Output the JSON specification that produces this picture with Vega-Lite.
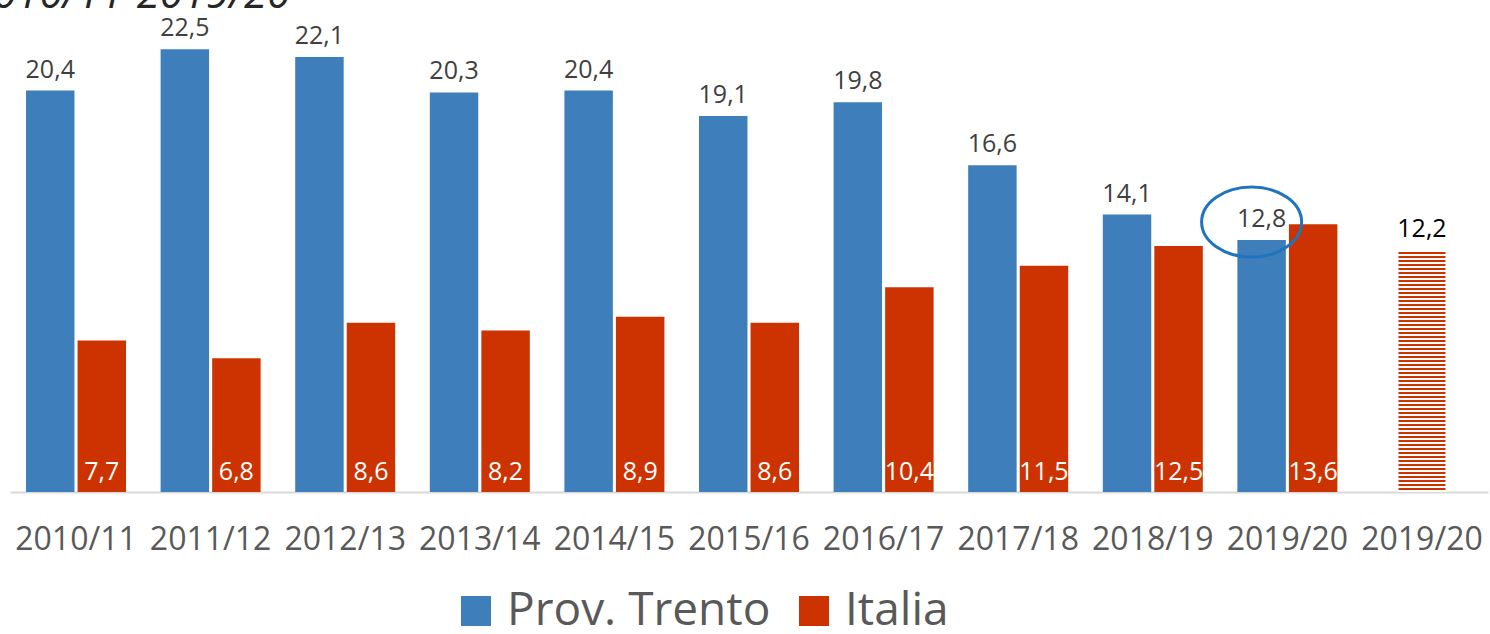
{
  "$schema": "https://vega.github.io/schema/vega-lite/v6.json",
  "autosize": {"type": "none"},
  "width": 1478,
  "height": 492,
  "padding": {"left": 10, "top": 0, "right": 2, "bottom": 142},
  "background": "white",
  "data": {"values": [
    {"cat": "2010/11", "series": "Prov. Trento", "value": 20.4},
    {"cat": "2010/11", "series": "Italia", "value": 7.7},
    {"cat": "2011/12", "series": "Prov. Trento", "value": 22.5},
    {"cat": "2011/12", "series": "Italia", "value": 6.8},
    {"cat": "2012/13", "series": "Prov. Trento", "value": 22.1},
    {"cat": "2012/13", "series": "Italia", "value": 8.6},
    {"cat": "2013/14", "series": "Prov. Trento", "value": 20.3},
    {"cat": "2013/14", "series": "Italia", "value": 8.2},
    {"cat": "2014/15", "series": "Prov. Trento", "value": 20.4},
    {"cat": "2014/15", "series": "Italia", "value": 8.9},
    {"cat": "2015/16", "series": "Prov. Trento", "value": 19.1},
    {"cat": "2015/16", "series": "Italia", "value": 8.6},
    {"cat": "2016/17", "series": "Prov. Trento", "value": 19.8},
    {"cat": "2016/17", "series": "Italia", "value": 10.4},
    {"cat": "2017/18", "series": "Prov. Trento", "value": 16.6},
    {"cat": "2017/18", "series": "Italia", "value": 11.5},
    {"cat": "2018/19", "series": "Prov. Trento", "value": 14.1},
    {"cat": "2018/19", "series": "Italia", "value": 12.5},
    {"cat": "2019/20", "series": "Prov. Trento", "value": 12.8},
    {"cat": "2019/20", "series": "Italia", "value": 13.6},
    {"cat": "2019/20 (s)", "series": "stima", "value": 12.2}
  ]},
  "encoding": {
    "x": {"field": "cat", "type": "nominal", "sort": null,
      "scale": {"domain": ["2010/11","2011/12","2012/13","2013/14","2014/15","2015/16","2016/17","2017/18","2018/19","2019/20","2019/20 (s)"], "paddingInner": 0.257, "paddingOuter": 0.119},
      "axis": {"title": null, "labelAngle": 0, "labelFontSize": 32, "labelColor": "#595959", "labelPadding": 32, "ticks": false, "domainColor": "#D9D9D9", "domainWidth": 2, "labelExpr": "substring(datum.label, 0, 7)"}},
    "y": {"field": "value", "type": "quantitative", "scale": {"domain": [0, 25], "nice": false}, "axis": null}
  },
  "layer": [
    {
      "transform": [{"filter": "datum.series !== 'stima'"}],
      "mark": {"type": "bar"},
      "encoding": {
        "xOffset": {"field": "series", "type": "nominal", "scale": {"domain": ["Prov. Trento", "Italia"], "paddingInner": 0.06}},
        "color": {"field": "series", "type": "nominal", "scale": {"domain": ["Prov. Trento", "Italia"], "range": ["#3D7EBB", "#CC3300"]},
          "legend": {"title": null, "orient": "none", "legendX": 443, "legendY": 588, "direction": "horizontal", "symbolType": "square", "symbolSize": 900, "symbolStrokeWidth": 0, "labelFontSize": 46, "labelColor": "#595959", "labelOffset": 8, "labelLimit": 0, "columnPadding": 20, "padding": 0, "labelBaseline": "middle"}}
      }
    },
    {
      "transform": [{"filter": "datum.series === 'Prov. Trento'"}],
      "mark": {"type": "text", "dy": -13, "baseline": "alphabetic", "fontSize": 25, "color": "#404040"},
      "encoding": {
        "xOffset": {"field": "series", "type": "nominal", "scale": {"domain": ["Prov. Trento", "Italia"], "paddingInner": 0.06}},
        "text": {"field": "value", "type": "quantitative", "format": ".1f"}
      }
    },
    {
      "transform": [{"filter": "datum.series === 'Italia'"}],
      "mark": {"type": "text", "dy": -12, "baseline": "alphabetic", "fontSize": 25, "color": "#FFFFFF"},
      "encoding": {
        "xOffset": {"field": "series", "type": "nominal", "scale": {"domain": ["Prov. Trento", "Italia"], "paddingInner": 0.06}},
        "y": {"datum": 0},
        "text": {"field": "value", "type": "quantitative", "format": ".1f"}
      }
    },
    {
      "transform": [{"filter": "datum.series === 'stima'"}],
      "mark": {"type": "bar", "width": {"band": 0.47}, "fill": {"gradient": "linear", "x1": 0, "y1": 0, "x2": 0, "y2": 1, "stops": [
        {"offset":0,"color":"#c30"},{"offset":0.0092,"color":"#c30"},{"offset":0.0092,"color":"#fff"},{"offset":0.0167,"color":"#fff"},
        {"offset":0.0167,"color":"#c30"},{"offset":0.0259,"color":"#c30"},{"offset":0.0259,"color":"#fff"},{"offset":0.0333,"color":"#fff"},
        {"offset":0.0333,"color":"#c30"},{"offset":0.0425,"color":"#c30"},{"offset":0.0425,"color":"#fff"},{"offset":0.05,"color":"#fff"},
        {"offset":0.05,"color":"#c30"},{"offset":0.0592,"color":"#c30"},{"offset":0.0592,"color":"#fff"},{"offset":0.0667,"color":"#fff"},
        {"offset":0.0667,"color":"#c30"},{"offset":0.0759,"color":"#c30"},{"offset":0.0759,"color":"#fff"},{"offset":0.0833,"color":"#fff"},
        {"offset":0.0833,"color":"#c30"},{"offset":0.0925,"color":"#c30"},{"offset":0.0925,"color":"#fff"},{"offset":0.1,"color":"#fff"},
        {"offset":0.1,"color":"#c30"},{"offset":0.1092,"color":"#c30"},{"offset":0.1092,"color":"#fff"},{"offset":0.1167,"color":"#fff"},
        {"offset":0.1167,"color":"#c30"},{"offset":0.1259,"color":"#c30"},{"offset":0.1259,"color":"#fff"},{"offset":0.1333,"color":"#fff"},
        {"offset":0.1333,"color":"#c30"},{"offset":0.1425,"color":"#c30"},{"offset":0.1425,"color":"#fff"},{"offset":0.15,"color":"#fff"},
        {"offset":0.15,"color":"#c30"},{"offset":0.1592,"color":"#c30"},{"offset":0.1592,"color":"#fff"},{"offset":0.1667,"color":"#fff"},
        {"offset":0.1667,"color":"#c30"},{"offset":0.1759,"color":"#c30"},{"offset":0.1759,"color":"#fff"},{"offset":0.1833,"color":"#fff"},
        {"offset":0.1833,"color":"#c30"},{"offset":0.1925,"color":"#c30"},{"offset":0.1925,"color":"#fff"},{"offset":0.2,"color":"#fff"},
        {"offset":0.2,"color":"#c30"},{"offset":0.2092,"color":"#c30"},{"offset":0.2092,"color":"#fff"},{"offset":0.2167,"color":"#fff"},
        {"offset":0.2167,"color":"#c30"},{"offset":0.2259,"color":"#c30"},{"offset":0.2259,"color":"#fff"},{"offset":0.2333,"color":"#fff"},
        {"offset":0.2333,"color":"#c30"},{"offset":0.2425,"color":"#c30"},{"offset":0.2425,"color":"#fff"},{"offset":0.25,"color":"#fff"},
        {"offset":0.25,"color":"#c30"},{"offset":0.2592,"color":"#c30"},{"offset":0.2592,"color":"#fff"},{"offset":0.2667,"color":"#fff"},
        {"offset":0.2667,"color":"#c30"},{"offset":0.2759,"color":"#c30"},{"offset":0.2759,"color":"#fff"},{"offset":0.2833,"color":"#fff"},
        {"offset":0.2833,"color":"#c30"},{"offset":0.2925,"color":"#c30"},{"offset":0.2925,"color":"#fff"},{"offset":0.3,"color":"#fff"},
        {"offset":0.3,"color":"#c30"},{"offset":0.3092,"color":"#c30"},{"offset":0.3092,"color":"#fff"},{"offset":0.3167,"color":"#fff"},
        {"offset":0.3167,"color":"#c30"},{"offset":0.3259,"color":"#c30"},{"offset":0.3259,"color":"#fff"},{"offset":0.3333,"color":"#fff"},
        {"offset":0.3333,"color":"#c30"},{"offset":0.3425,"color":"#c30"},{"offset":0.3425,"color":"#fff"},{"offset":0.35,"color":"#fff"},
        {"offset":0.35,"color":"#c30"},{"offset":0.3592,"color":"#c30"},{"offset":0.3592,"color":"#fff"},{"offset":0.3667,"color":"#fff"},
        {"offset":0.3667,"color":"#c30"},{"offset":0.3759,"color":"#c30"},{"offset":0.3759,"color":"#fff"},{"offset":0.3833,"color":"#fff"},
        {"offset":0.3833,"color":"#c30"},{"offset":0.3925,"color":"#c30"},{"offset":0.3925,"color":"#fff"},{"offset":0.4,"color":"#fff"},
        {"offset":0.4,"color":"#c30"},{"offset":0.4092,"color":"#c30"},{"offset":0.4092,"color":"#fff"},{"offset":0.4167,"color":"#fff"},
        {"offset":0.4167,"color":"#c30"},{"offset":0.4259,"color":"#c30"},{"offset":0.4259,"color":"#fff"},{"offset":0.4333,"color":"#fff"},
        {"offset":0.4333,"color":"#c30"},{"offset":0.4425,"color":"#c30"},{"offset":0.4425,"color":"#fff"},{"offset":0.45,"color":"#fff"},
        {"offset":0.45,"color":"#c30"},{"offset":0.4592,"color":"#c30"},{"offset":0.4592,"color":"#fff"},{"offset":0.4667,"color":"#fff"},
        {"offset":0.4667,"color":"#c30"},{"offset":0.4759,"color":"#c30"},{"offset":0.4759,"color":"#fff"},{"offset":0.4833,"color":"#fff"},
        {"offset":0.4833,"color":"#c30"},{"offset":0.4925,"color":"#c30"},{"offset":0.4925,"color":"#fff"},{"offset":0.5,"color":"#fff"},
        {"offset":0.5,"color":"#c30"},{"offset":0.5092,"color":"#c30"},{"offset":0.5092,"color":"#fff"},{"offset":0.5167,"color":"#fff"},
        {"offset":0.5167,"color":"#c30"},{"offset":0.5259,"color":"#c30"},{"offset":0.5259,"color":"#fff"},{"offset":0.5333,"color":"#fff"},
        {"offset":0.5333,"color":"#c30"},{"offset":0.5425,"color":"#c30"},{"offset":0.5425,"color":"#fff"},{"offset":0.55,"color":"#fff"},
        {"offset":0.55,"color":"#c30"},{"offset":0.5592,"color":"#c30"},{"offset":0.5592,"color":"#fff"},{"offset":0.5667,"color":"#fff"},
        {"offset":0.5667,"color":"#c30"},{"offset":0.5759,"color":"#c30"},{"offset":0.5759,"color":"#fff"},{"offset":0.5833,"color":"#fff"},
        {"offset":0.5833,"color":"#c30"},{"offset":0.5925,"color":"#c30"},{"offset":0.5925,"color":"#fff"},{"offset":0.6,"color":"#fff"},
        {"offset":0.6,"color":"#c30"},{"offset":0.6092,"color":"#c30"},{"offset":0.6092,"color":"#fff"},{"offset":0.6167,"color":"#fff"},
        {"offset":0.6167,"color":"#c30"},{"offset":0.6259,"color":"#c30"},{"offset":0.6259,"color":"#fff"},{"offset":0.6333,"color":"#fff"},
        {"offset":0.6333,"color":"#c30"},{"offset":0.6425,"color":"#c30"},{"offset":0.6425,"color":"#fff"},{"offset":0.65,"color":"#fff"},
        {"offset":0.65,"color":"#c30"},{"offset":0.6592,"color":"#c30"},{"offset":0.6592,"color":"#fff"},{"offset":0.6667,"color":"#fff"},
        {"offset":0.6667,"color":"#c30"},{"offset":0.6759,"color":"#c30"},{"offset":0.6759,"color":"#fff"},{"offset":0.6833,"color":"#fff"},
        {"offset":0.6833,"color":"#c30"},{"offset":0.6925,"color":"#c30"},{"offset":0.6925,"color":"#fff"},{"offset":0.7,"color":"#fff"},
        {"offset":0.7,"color":"#c30"},{"offset":0.7092,"color":"#c30"},{"offset":0.7092,"color":"#fff"},{"offset":0.7167,"color":"#fff"},
        {"offset":0.7167,"color":"#c30"},{"offset":0.7259,"color":"#c30"},{"offset":0.7259,"color":"#fff"},{"offset":0.7333,"color":"#fff"},
        {"offset":0.7333,"color":"#c30"},{"offset":0.7425,"color":"#c30"},{"offset":0.7425,"color":"#fff"},{"offset":0.75,"color":"#fff"},
        {"offset":0.75,"color":"#c30"},{"offset":0.7592,"color":"#c30"},{"offset":0.7592,"color":"#fff"},{"offset":0.7667,"color":"#fff"},
        {"offset":0.7667,"color":"#c30"},{"offset":0.7759,"color":"#c30"},{"offset":0.7759,"color":"#fff"},{"offset":0.7833,"color":"#fff"},
        {"offset":0.7833,"color":"#c30"},{"offset":0.7925,"color":"#c30"},{"offset":0.7925,"color":"#fff"},{"offset":0.8,"color":"#fff"},
        {"offset":0.8,"color":"#c30"},{"offset":0.8092,"color":"#c30"},{"offset":0.8092,"color":"#fff"},{"offset":0.8167,"color":"#fff"},
        {"offset":0.8167,"color":"#c30"},{"offset":0.8259,"color":"#c30"},{"offset":0.8259,"color":"#fff"},{"offset":0.8333,"color":"#fff"},
        {"offset":0.8333,"color":"#c30"},{"offset":0.8425,"color":"#c30"},{"offset":0.8425,"color":"#fff"},{"offset":0.85,"color":"#fff"},
        {"offset":0.85,"color":"#c30"},{"offset":0.8592,"color":"#c30"},{"offset":0.8592,"color":"#fff"},{"offset":0.8667,"color":"#fff"},
        {"offset":0.8667,"color":"#c30"},{"offset":0.8759,"color":"#c30"},{"offset":0.8759,"color":"#fff"},{"offset":0.8833,"color":"#fff"},
        {"offset":0.8833,"color":"#c30"},{"offset":0.8925,"color":"#c30"},{"offset":0.8925,"color":"#fff"},{"offset":0.9,"color":"#fff"},
        {"offset":0.9,"color":"#c30"},{"offset":0.9092,"color":"#c30"},{"offset":0.9092,"color":"#fff"},{"offset":0.9167,"color":"#fff"},
        {"offset":0.9167,"color":"#c30"},{"offset":0.9259,"color":"#c30"},{"offset":0.9259,"color":"#fff"},{"offset":0.9333,"color":"#fff"},
        {"offset":0.9333,"color":"#c30"},{"offset":0.9425,"color":"#c30"},{"offset":0.9425,"color":"#fff"},{"offset":0.95,"color":"#fff"},
        {"offset":0.95,"color":"#c30"},{"offset":0.9592,"color":"#c30"},{"offset":0.9592,"color":"#fff"},{"offset":0.9667,"color":"#fff"},
        {"offset":0.9667,"color":"#c30"},{"offset":0.9759,"color":"#c30"},{"offset":0.9759,"color":"#fff"},{"offset":0.9833,"color":"#fff"},
        {"offset":0.9833,"color":"#c30"},{"offset":0.9925,"color":"#c30"},{"offset":0.9925,"color":"#fff"},{"offset":1,"color":"#fff"}
      ]}}
    },
    {
      "transform": [{"filter": "datum.series === 'stima'"}],
      "mark": {"type": "text", "dy": -15, "baseline": "alphabetic", "fontSize": 25, "color": "#000000"},
      "encoding": {
        "text": {"field": "value", "type": "quantitative", "format": ".1f"}
      }
    },
    {
      "transform": [{"filter": "datum.series === 'Prov. Trento' && datum.cat === '2019/20'"}],
      "mark": {"type": "point", "filled": false, "stroke": "#1F74C0", "strokeWidth": 3, "opacity": 1, "size": 10000,
        "shape": "M0.8,-0.36 C0.8,0.0266 0.3523,0.34 -0.2,0.34 C-0.7523,0.34 -1.2,0.0266 -1.2,-0.36 C-1.2,-0.7466 -0.7523,-1.06 -0.2,-1.06 C0.3523,-1.06 0.8,-0.7466 0.8,-0.36 Z"},
      "encoding": {
        "xOffset": {"field": "series", "type": "nominal", "scale": {"domain": ["Prov. Trento", "Italia"], "paddingInner": 0.06}}
      }
    },
    {
      "transform": [{"filter": "datum.series === 'Prov. Trento' && datum.cat === '2010/11'"}],
      "mark": {"type": "text", "align": "left", "baseline": "alphabetic", "fontSize": 42, "fontStyle": "italic", "color": "#262626", "dx": -106, "dy": 8},
      "encoding": {
        "y": {"datum": 25},
        "text": {"value": "2010/11-2019/20"}
      }
    }
  ],
  "config": {
    "view": {"stroke": null},
    "font": "Open Sans",
    "locale": {"number": {"decimal": ",", "thousands": ".", "grouping": [3], "currency": ["€", ""]}}
  }
}
